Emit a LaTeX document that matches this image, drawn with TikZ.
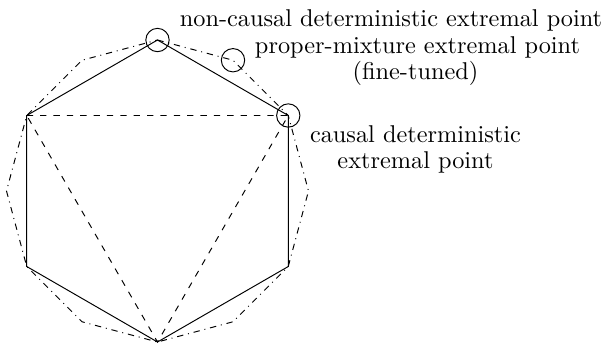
\documentclass[tikz,border=0pt]{standalone}
\begin{document}
\begin{tikzpicture}[x=0.4115pt,y=-0.4115pt,
  lbl/.style={anchor=base,inner sep=0pt,font=\fontsize{10}{10.9}\selectfont},
  mark circle/.style={circle,draw,minimum size=9.6pt,inner sep=0pt},
  outer/.style={dash pattern=on 2.6pt off 2pt on \the\pgflinewidth off 2pt},
  hexa/.style={},
  tri/.style={dash pattern=on 2.6pt off 2.9pt}]
\useasboundingbox (0,0) rectangle (607,343);
% hexagon vertices
\coordinate (h90)  at (157.5,40);
\coordinate (h30)  at (288.27,115.5);
\coordinate (h330) at (288.27,266.5);
\coordinate (h270) at (157.5,342);
\coordinate (h210) at (26.73,266.5);
\coordinate (h150) at (26.73,115.5);
% extra dodecagon vertices
\coordinate (d0)   at (308.5,191);
\coordinate (d60)  at (233,60.23);
\coordinate (d120) at (82,60.23);
\coordinate (d180) at (6.5,191);
\coordinate (d240) at (82,321.77);
\coordinate (d300) at (233,321.77);
% dodecagon
\draw[outer] (h90) -- (d60) -- (h30) -- (d0) -- (h330) -- (d300) -- (h270)
  -- (d240) -- (h210) -- (d180) -- (h150) -- (d120) -- cycle;
% hexagon
\draw[hexa] (h90) -- (h30) -- (h330) -- (h270) -- (h210) -- (h150) -- cycle;
% triangle
\draw[tri] (h150) -- (h30) -- (h270) -- cycle;
% circles
\node[mark circle] (c1) at (h90) {};
\node[mark circle] (c2) at (h30) {};
\node[mark circle] (c3) at (d60) {};
% labels
\node[lbl] (t1) at (391,26) {non-causal deterministic extremal point};
\node[lbl] (t2) at (417.5,53) {proper-mixture extremal point};
\node[lbl] (t3) at (415.5,79.5) {(fine-tuned)};
\node[lbl] (t4) at (415.5,142) {causal deterministic};
\node[lbl] (t5) at (415.5,168) {extremal point};
\end{tikzpicture}
\end{document}
